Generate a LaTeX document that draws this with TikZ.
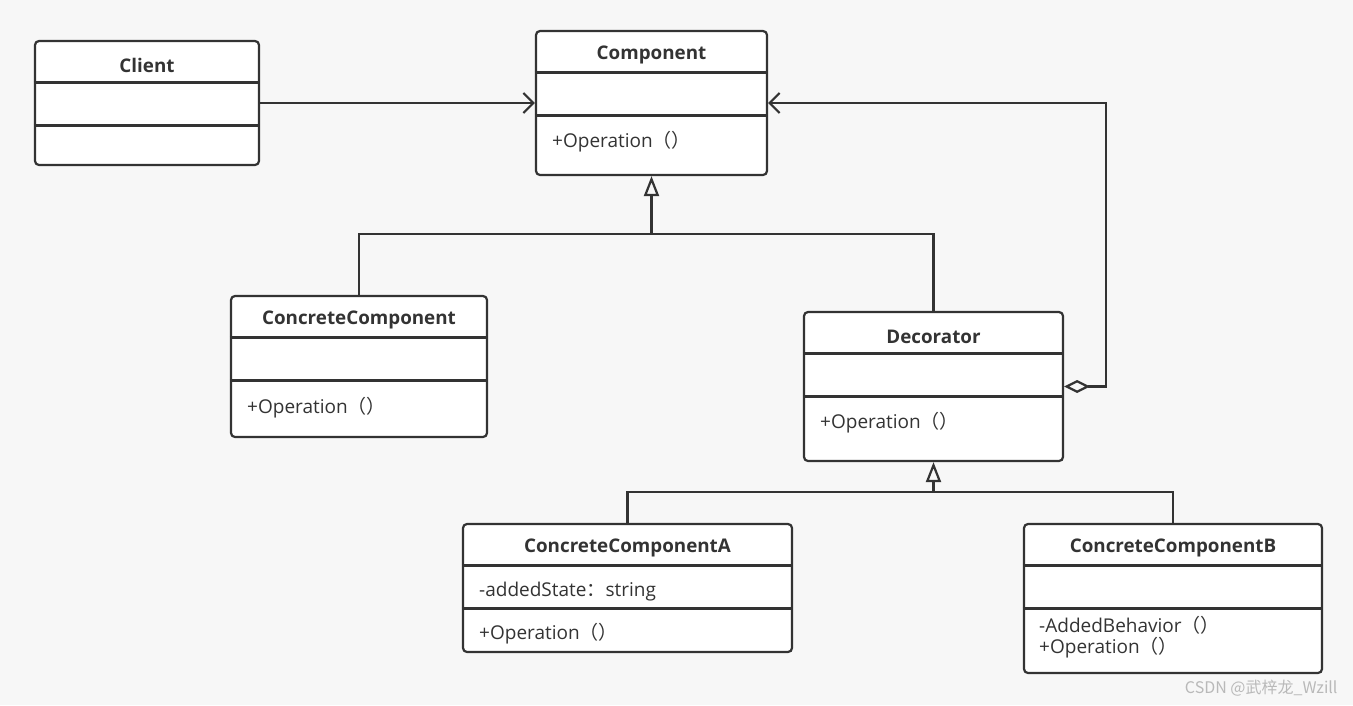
\documentclass[tikz,border=0pt]{standalone}
\usepackage{fontspec}
\setmainfont{Open Sans}
\newfontfamily\cjk{Noto Sans CJK SC}
\usetikzlibrary{arrows.meta,positioning,calc}
\definecolor{ink}{HTML}{333333}
\definecolor{paper}{HTML}{F7F7F7}

\begin{document}
\begin{tikzpicture}[x=1pt,y=-1pt,
  cls/.style={draw=ink,line width=2.2pt,fill=white,rounded corners=4pt,inner sep=0pt},
  sep/.style={draw=ink,line width=2.2pt},
  title/.style={font=\fontsize{18.8}{22}\selectfont\bfseries,text=ink},
  member/.style={font=\fontsize{19}{22}\selectfont,text=ink,anchor=west,inner sep=0pt},
  link/.style={draw=ink,line width=2.2pt},
  assoc/.style={link,-{Straight Barb[length=10pt,width=20pt,line width=2.2pt]}},
  gen/.style={link,-{Triangle[open,length=20pt,width=15pt,line width=2.2pt]}},
  agg/.style={link,{Diamond[open,length=26pt,width=13pt,line width=2.2pt]}-{Straight Barb[length=10pt,width=20pt,line width=2.2pt]}}]
\useasboundingbox[fill=paper] (0,0) rectangle (1353,705);
% classes
\node[cls,minimum width=224pt,minimum height=124pt] (client) at (147,103) {};
\node[cls,minimum width=231pt,minimum height=144pt] (comp) at (651.5,103) {};
\node[cls,minimum width=256pt,minimum height=141pt] (cc) at (359,366.5) {};
\node[cls,minimum width=259pt,minimum height=149pt] (dec) at (933.5,386.5) {};
\node[cls,minimum width=329pt,minimum height=128pt] (ca) at (627.5,588) {};
\node[cls,minimum width=298pt,minimum height=149pt] (cb) at (1173,598.5) {};
% compartments
\foreach \c in {client,comp,cc,dec,ca,cb}{
  \draw[sep] ([yshift=-42.5pt]\c.north west) -- ([yshift=-42.5pt]\c.north east);
  \draw[sep] ([yshift=-85.5pt]\c.north west) -- ([yshift=-85.5pt]\c.north east);
}
\node[title] at ([yshift=-25.5pt]client.north) {Client};
\node[title] at ([yshift=-25.5pt]comp.north) {Component};
\node[title] at ([yshift=-25.5pt]cc.north) {ConcreteComponent};
\node[title] at ([yshift=-25.5pt]dec.north) {Decorator};
\node[title] at ([yshift=-25.5pt]ca.north) {ConcreteComponentA};
\node[title] at ([yshift=-25.5pt]cb.north) {ConcreteComponentB};
% members
\node[member] (compop) at (552,142) {+Operation{\cjk（）}};
\node[member] (ccop) at (247,408) {+Operation{\cjk（）}};
\node[member] (decop) at (820,423) {+Operation{\cjk（）}};
\node[member] (castate) at (479,592) {-addedState{\cjk：}string};
\node[member] (caop) at (479,634) {+Operation{\cjk（）}};
\node[member] (cbadd) at (1039,625) {-AddedBehavior{\cjk（）}};
\node[member] (cbop) at (1039,648) {+Operation{\cjk（）}};
% relations
\coordinate (busA) at (0,234);
\coordinate (busB) at (0,492);
\coordinate (loop) at (1106,103);
\draw[assoc] (client.east) -- (comp.west);
\draw[link] (cc.north) |- (dec.north |- busA) -- (dec.north);
\draw[gen] (comp.south |- busA) -- (comp.south);
\draw[link] (ca.north) |- (cb.north |- busB) -- (cb.north);
\draw[gen] (dec.south |- busB) -- (dec.south);
\draw[agg] (dec.east) -| (loop) -- (comp.east);
% watermark
\node[font=\fontsize{16}{18}\selectfont\cjk,text=gray!55,anchor=east] (mark) at (1341,688) {CSDN @武梓龙\_Wzill};
\end{tikzpicture}
\end{document}
